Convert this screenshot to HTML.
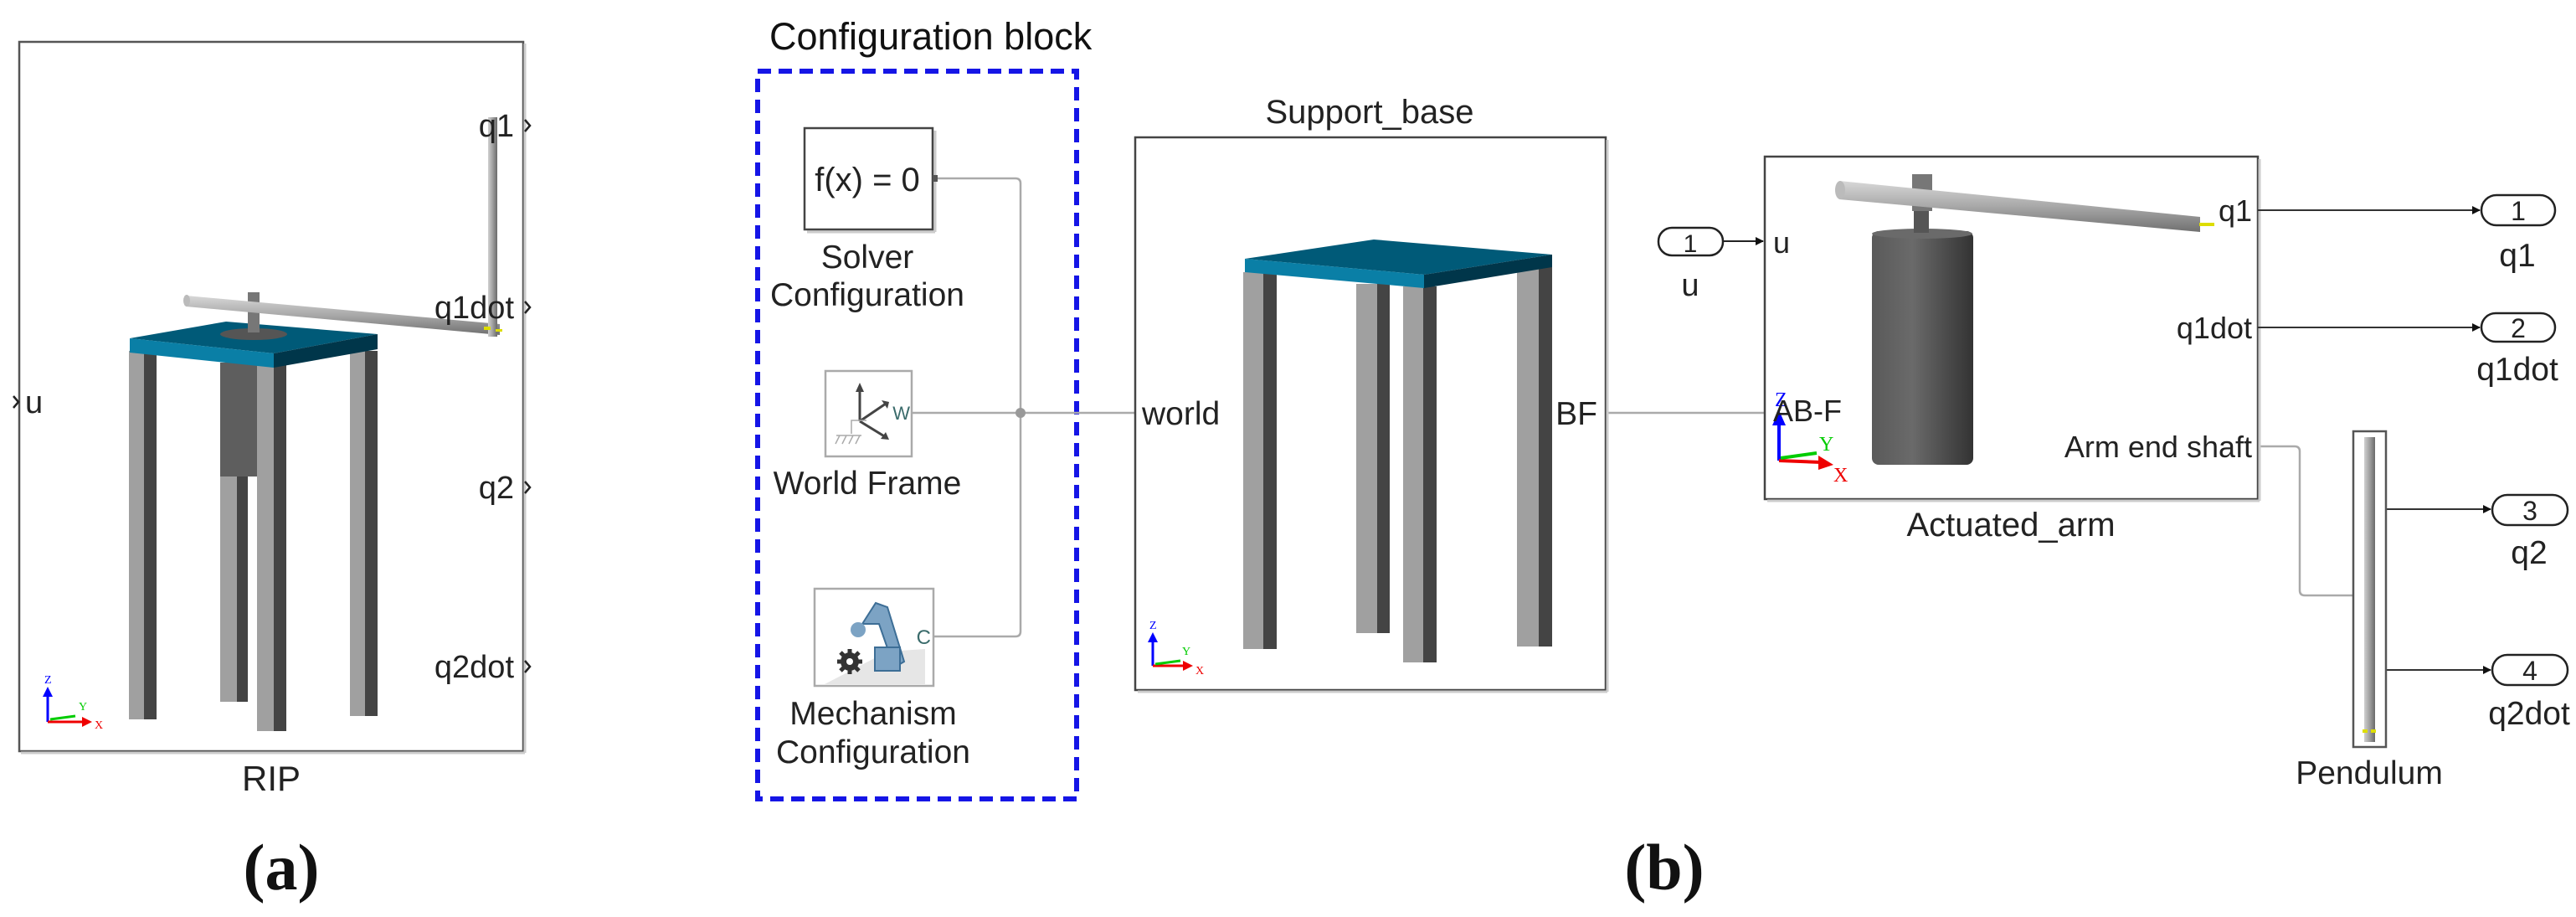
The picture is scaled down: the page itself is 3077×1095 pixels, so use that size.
<!DOCTYPE html>
<html><head><meta charset="utf-8"><style>
html,body{margin:0;padding:0;background:#fff}
svg{display:block}
text{font-family:"Liberation Sans",Arial,sans-serif;fill:#222}
</style></head><body>
<svg width="3077" height="1095" viewBox="0 0 3077 1095" xmlns="http://www.w3.org/2000/svg">
<defs>
<linearGradient id="rod" x1="0" y1="0" x2="0" y2="1"><stop offset="0" stop-color="#d8d8d8"/><stop offset="0.5" stop-color="#a8a8a8"/><stop offset="1" stop-color="#707070"/></linearGradient>
<linearGradient id="rodv" x1="0" y1="0" x2="1" y2="0"><stop offset="0" stop-color="#d0d0d0"/><stop offset="0.5" stop-color="#a0a0a0"/><stop offset="1" stop-color="#6a6a6a"/></linearGradient>
<linearGradient id="cyl" x1="0" y1="0" x2="1" y2="0"><stop offset="0" stop-color="#5a5a5a"/><stop offset="0.4" stop-color="#6a6a6a"/><stop offset="1" stop-color="#333"/></linearGradient>
<marker id="ah" markerWidth="10" markerHeight="10" refX="9" refY="5" orient="auto" markerUnits="userSpaceOnUse"><path d="M0,0 L10,5 L0,10 z" fill="#111"/></marker>
</defs>

<!-- ================= (a) RIP ================= -->
<rect x="23" y="50" width="602" height="847" fill="#fff" stroke="#555" stroke-width="2.5"/>
<line x1="627" y1="52" x2="627" y2="899" stroke="#ccc" stroke-width="3"/>
<line x1="25" y1="899" x2="627" y2="899" stroke="#ccc" stroke-width="3"/>
<rect x="154" y="419" width="18" height="440" fill="#a0a0a0"/><rect x="172" y="419" width="15" height="440" fill="#444"/>
<rect x="263" y="569" width="20" height="269" fill="#a0a0a0"/><rect x="283" y="569" width="13" height="269" fill="#444"/>
<rect x="263" y="433" width="46" height="136" fill="#5e5e5e"/>
<rect x="307" y="433" width="20" height="440" fill="#a0a0a0"/><rect x="327" y="433" width="15" height="440" fill="#444"/>
<rect x="418" y="419" width="18" height="436" fill="#a0a0a0"/><rect x="436" y="419" width="15" height="436" fill="#444"/>
<polygon points="155,404 270,384 451,399 327,422" fill="#005a78"/>
<polygon points="155,404 327,422 327,439 155,421" fill="#0a7fa6"/>
<polygon points="327,422 451,399 451,417 327,439" fill="#00364a"/>
<ellipse cx="303" cy="399" rx="40" ry="7" fill="#555"/>
<rect x="296" y="349" width="14" height="48" fill="#777"/>
<polygon points="222,353 597,387 597,400 222,366" fill="url(#rod)"/>
<ellipse cx="223" cy="359" rx="4" ry="7" fill="#bbb"/>
<rect x="583" y="140" width="11" height="262" fill="url(#rodv)"/>
<rect x="578" y="390" width="8" height="4" fill="#dd0"/><rect x="592" y="393" width="8" height="3" fill="#dd0"/>
<line x1="57" y1="862" x2="57" y2="830" stroke="#00f" stroke-width="3"/><polygon points="51,832 63,832 57,820" fill="#00f"/>
<text x="53" y="816" font-size="14" style="fill:#00f;font-family:'Liberation Serif',serif">Z</text>
<line x1="57" y1="862" x2="100" y2="862" stroke="#e00" stroke-width="3"/><polygon points="98,856 110,862 98,868" fill="#e00"/>
<line x1="60" y1="859" x2="90" y2="855" stroke="#0c0" stroke-width="3"/>
<text x="94" y="848" font-size="14" style="fill:#0c0;font-family:'Liberation Serif',serif">Y</text>
<text x="113" y="870" font-size="14" style="fill:#e00;font-family:'Liberation Serif',serif">X</text>
<g font-size="38" text-anchor="end">
<text x="614" y="163">q1</text><text x="614" y="380">q1dot</text><text x="614" y="595">q2</text><text x="614" y="809">q2dot</text></g>
<g stroke="#222" stroke-width="2.5" fill="none">
<polyline points="627,143 633,150 627,157"/><polyline points="627,360 633,367 627,374"/><polyline points="627,575 633,582 627,589"/><polyline points="627,789 633,796 627,803"/>
<polyline points="16,473 22,480 16,487"/></g>
<text x="30" y="493" font-size="38">u</text>
<text x="324" y="944" font-size="42" text-anchor="middle">RIP</text>
<text x="336" y="1062" font-size="78" font-weight="bold" text-anchor="middle" style="font-family:'Liberation Serif',serif;fill:#111">(a)</text>

<!-- ================= (b) ================= -->
<text x="919" y="59" font-size="45" style="fill:#111">Configuration  block</text>
<rect x="905" y="85" width="381" height="869" fill="none" stroke="#1515e6" stroke-width="6" stroke-dasharray="16,9"/>
<g stroke="#aaa" stroke-width="2.5" fill="none">
<path d="M1115,213 H1213 Q1219,213 1219,219 V754 Q1219,760 1213,760 H1115"/>
<line x1="1089" y1="493" x2="1356" y2="493"/>
<line x1="1918" y1="493" x2="2108" y2="493"/>
<path d="M2697,533 H2741 Q2747,533 2747,539 V705 Q2747,711 2753,711 H2811"/>
</g>
<circle cx="1219" cy="493" r="6" fill="#999"/>
<rect x="961" y="153" width="153" height="121" fill="#fff" stroke="#444" stroke-width="2.5"/>
<line x1="1117" y1="156" x2="1117" y2="277" stroke="#ccc" stroke-width="3"/>
<line x1="964" y1="277" x2="1117" y2="277" stroke="#ccc" stroke-width="3"/>
<rect x="1114" y="209" width="6" height="8" fill="#555"/>
<text x="1036" y="228" font-size="40" text-anchor="middle">f(x) = 0</text>
<text x="1036" y="320" font-size="39" text-anchor="middle">Solver</text>
<text x="1036" y="365" font-size="39" text-anchor="middle">Configuration</text>
<rect x="986" y="443" width="103" height="102" fill="#fff" stroke="#aaa" stroke-width="2.5"/>
<g stroke="#444" stroke-width="3" fill="none"><line x1="1027" y1="503" x2="1027" y2="465"/><line x1="1027" y1="503" x2="1058" y2="482"/><line x1="1027" y1="503" x2="1058" y2="522"/></g>
<polygon points="1022,468 1032,468 1027,457" fill="#444"/>
<polygon points="1053,478 1062,480 1060,488" fill="#444"/><polygon points="1052,524 1062,525 1058,516" fill="#444"/>
<path d="M1035,502 H1017 V518 M998,530 l5,-10 M1006,530 l5,-10 M1014,530 l5,-10 M1022,530 l5,-10 M999,520 H1029" stroke="#aaa" stroke-width="1.5" fill="none"/>
<text x="1087" y="501" font-size="22" text-anchor="end" style="fill:#3a6b6b">W</text>
<text x="1036" y="590" font-size="39" text-anchor="middle">World Frame</text>
<rect x="973" y="703" width="142" height="116" fill="#fff" stroke="#aaa" stroke-width="2.5"/>
<polygon points="985,817 1060,778 1105,775 1105,817" fill="#e6e6e6"/>
<path d="M1030,745 L1046,720 L1060,725 L1080,790 L1068,797 L1050,745 Z" fill="#7ca3c4" stroke="#3d6e96" stroke-width="2"/>
<rect x="1045" y="773" width="30" height="28" fill="#7ca3c4" stroke="#3d6e96" stroke-width="2"/>
<circle cx="1025" cy="752" r="9" fill="#7ca3c4"/>
<circle cx="1015" cy="790" r="11" fill="#333"/>
<g stroke="#333" stroke-width="5"><line x1="1015" y1="775" x2="1015" y2="805"/><line x1="1000" y1="790" x2="1030" y2="790"/><line x1="1004" y1="779" x2="1026" y2="801"/><line x1="1026" y1="779" x2="1004" y2="801"/></g>
<circle cx="1015" cy="790" r="4" fill="#fff"/>
<text x="1112" y="769" font-size="24" text-anchor="end" style="fill:#3a6b6b">C</text>
<text x="1043" y="865" font-size="39" text-anchor="middle">Mechanism</text>
<text x="1043" y="911" font-size="39" text-anchor="middle">Configuration</text>

<text x="1636" y="147" font-size="40" text-anchor="middle">Support_base</text>
<rect x="1356" y="164" width="562" height="660" fill="#fff" stroke="#444" stroke-width="2.5"/>
<line x1="1920" y1="167" x2="1920" y2="826" stroke="#ccc" stroke-width="3"/>
<line x1="1359" y1="826" x2="1920" y2="826" stroke="#ccc" stroke-width="3"/>
<rect x="1485" y="325" width="24" height="450" fill="#a0a0a0"/><rect x="1509" y="325" width="16" height="450" fill="#444"/>
<rect x="1620" y="339" width="25" height="417" fill="#a0a0a0"/><rect x="1645" y="339" width="15" height="417" fill="#444"/>
<rect x="1676" y="342" width="24" height="449" fill="#a0a0a0"/><rect x="1700" y="342" width="16" height="449" fill="#444"/>
<rect x="1812" y="318" width="26" height="454" fill="#a0a0a0"/><rect x="1838" y="318" width="16" height="454" fill="#444"/>
<polygon points="1487,309 1641,286 1854,304 1701,328" fill="#005a78"/>
<polygon points="1487,309 1701,328 1701,344 1487,325" fill="#0a7fa6"/>
<polygon points="1701,328 1854,304 1854,319 1701,344" fill="#00364a"/>
<line x1="1377" y1="795" x2="1377" y2="765" stroke="#00f" stroke-width="3"/><polygon points="1371,767 1383,767 1377,755" fill="#00f"/>
<text x="1373" y="751" font-size="14" style="fill:#00f;font-family:'Liberation Serif',serif">Z</text>
<line x1="1377" y1="795" x2="1415" y2="795" stroke="#e00" stroke-width="3"/><polygon points="1413,789 1425,795 1413,801" fill="#e00"/>
<line x1="1380" y1="793" x2="1410" y2="789" stroke="#0c0" stroke-width="3"/>
<text x="1412" y="782" font-size="14" style="fill:#0c0;font-family:'Liberation Serif',serif">Y</text>
<text x="1428" y="805" font-size="14" style="fill:#e00;font-family:'Liberation Serif',serif">X</text>
<text x="1364" y="507" font-size="39">world</text>
<text x="1908" y="507" font-size="39" text-anchor="end">BF</text>

<rect x="2108" y="187" width="589" height="409" fill="#fff" stroke="#444" stroke-width="2.5"/>
<line x1="2699" y1="190" x2="2699" y2="598" stroke="#ccc" stroke-width="3"/>
<line x1="2111" y1="598" x2="2699" y2="598" stroke="#ccc" stroke-width="3"/>
<rect x="2236" y="276" width="121" height="279" rx="8" fill="url(#cyl)"/>
<ellipse cx="2296" cy="279" rx="60" ry="6" fill="#6a6a6a"/>
<rect x="2286" y="250" width="18" height="28" fill="#555"/>
<rect x="2284" y="208" width="24" height="44" fill="#777"/>
<polygon points="2197,216 2628,259 2628,277 2197,238" fill="url(#rod)"/>
<ellipse cx="2198" cy="227" rx="6" ry="11" fill="#bbb"/>
<rect x="2627" y="266" width="18" height="4" fill="#dd0"/>
<line x1="2125" y1="550" x2="2125" y2="505" stroke="#00f" stroke-width="4"/><polygon points="2117,508 2133,508 2125,490" fill="#00f"/>
<text x="2120" y="485" font-size="24" style="fill:#00f;font-family:'Liberation Serif',serif">Z</text>
<line x1="2125" y1="550" x2="2175" y2="552" stroke="#e00" stroke-width="4"/><polygon points="2172,544 2190,555 2172,561" fill="#e00"/>
<line x1="2127" y1="547" x2="2170" y2="541" stroke="#0c0" stroke-width="4"/>
<text x="2173" y="538" font-size="24" style="fill:#0c0;font-family:'Liberation Serif',serif">Y</text>
<text x="2190" y="575" font-size="24" style="fill:#e00;font-family:'Liberation Serif',serif">X</text>
<text x="2118" y="503" font-size="36">AB-F</text>
<text x="2118" y="302" font-size="36">u</text>
<g font-size="36" text-anchor="end"><text x="2690" y="264">q1</text><text x="2690" y="404">q1dot</text><text x="2690" y="546">Arm end shaft</text></g>
<text x="2402" y="640" font-size="40" text-anchor="middle">Actuated_arm</text>

<rect x="1981" y="272" width="77" height="33" rx="16" fill="#fff" stroke="#222" stroke-width="2.5"/>
<text x="2019" y="301" font-size="30" text-anchor="middle">1</text>
<text x="2019" y="353" font-size="38" text-anchor="middle">u</text>
<line x1="2058" y1="288" x2="2106" y2="288" stroke="#222" stroke-width="2" marker-end="url(#ah)"/>

<g stroke="#333" stroke-width="2" fill="none">
<line x1="2697" y1="251" x2="2962" y2="251" marker-end="url(#ah)"/>
<line x1="2697" y1="391" x2="2962" y2="391" marker-end="url(#ah)"/>
<line x1="2850" y1="608" x2="2975" y2="608" marker-end="url(#ah)"/>
<line x1="2850" y1="800" x2="2975" y2="800" marker-end="url(#ah)"/>
</g>
<g fill="#fff" stroke="#222" stroke-width="2.5">
<rect x="2964" y="233" width="88" height="36" rx="18"/>
<rect x="2964" y="374" width="88" height="34" rx="17"/>
<rect x="2977" y="591" width="90" height="36" rx="18"/>
<rect x="2977" y="782" width="90" height="36" rx="18"/>
</g>
<g font-size="32" text-anchor="middle"><text x="3008" y="263">1</text><text x="3008" y="403">2</text><text x="3022" y="621">3</text><text x="3022" y="812">4</text></g>
<g font-size="39" text-anchor="middle"><text x="3007" y="318">q1</text><text x="3007" y="454">q1dot</text><text x="3021" y="673">q2</text><text x="3021" y="865">q2dot</text></g>

<rect x="2811" y="515" width="39" height="377" fill="#fff" stroke="#555" stroke-width="2.5"/>
<rect x="2824" y="522" width="13" height="364" fill="url(#rodv)"/>
<rect x="2822" y="871" width="6" height="4" fill="#dd0"/><rect x="2832" y="871" width="6" height="4" fill="#dd0"/>
<text x="2830" y="936" font-size="39" text-anchor="middle">Pendulum</text>

<text x="1988" y="1062" font-size="78" font-weight="bold" text-anchor="middle" style="font-family:'Liberation Serif',serif;fill:#111">(b)</text>
</svg>
</body></html>
